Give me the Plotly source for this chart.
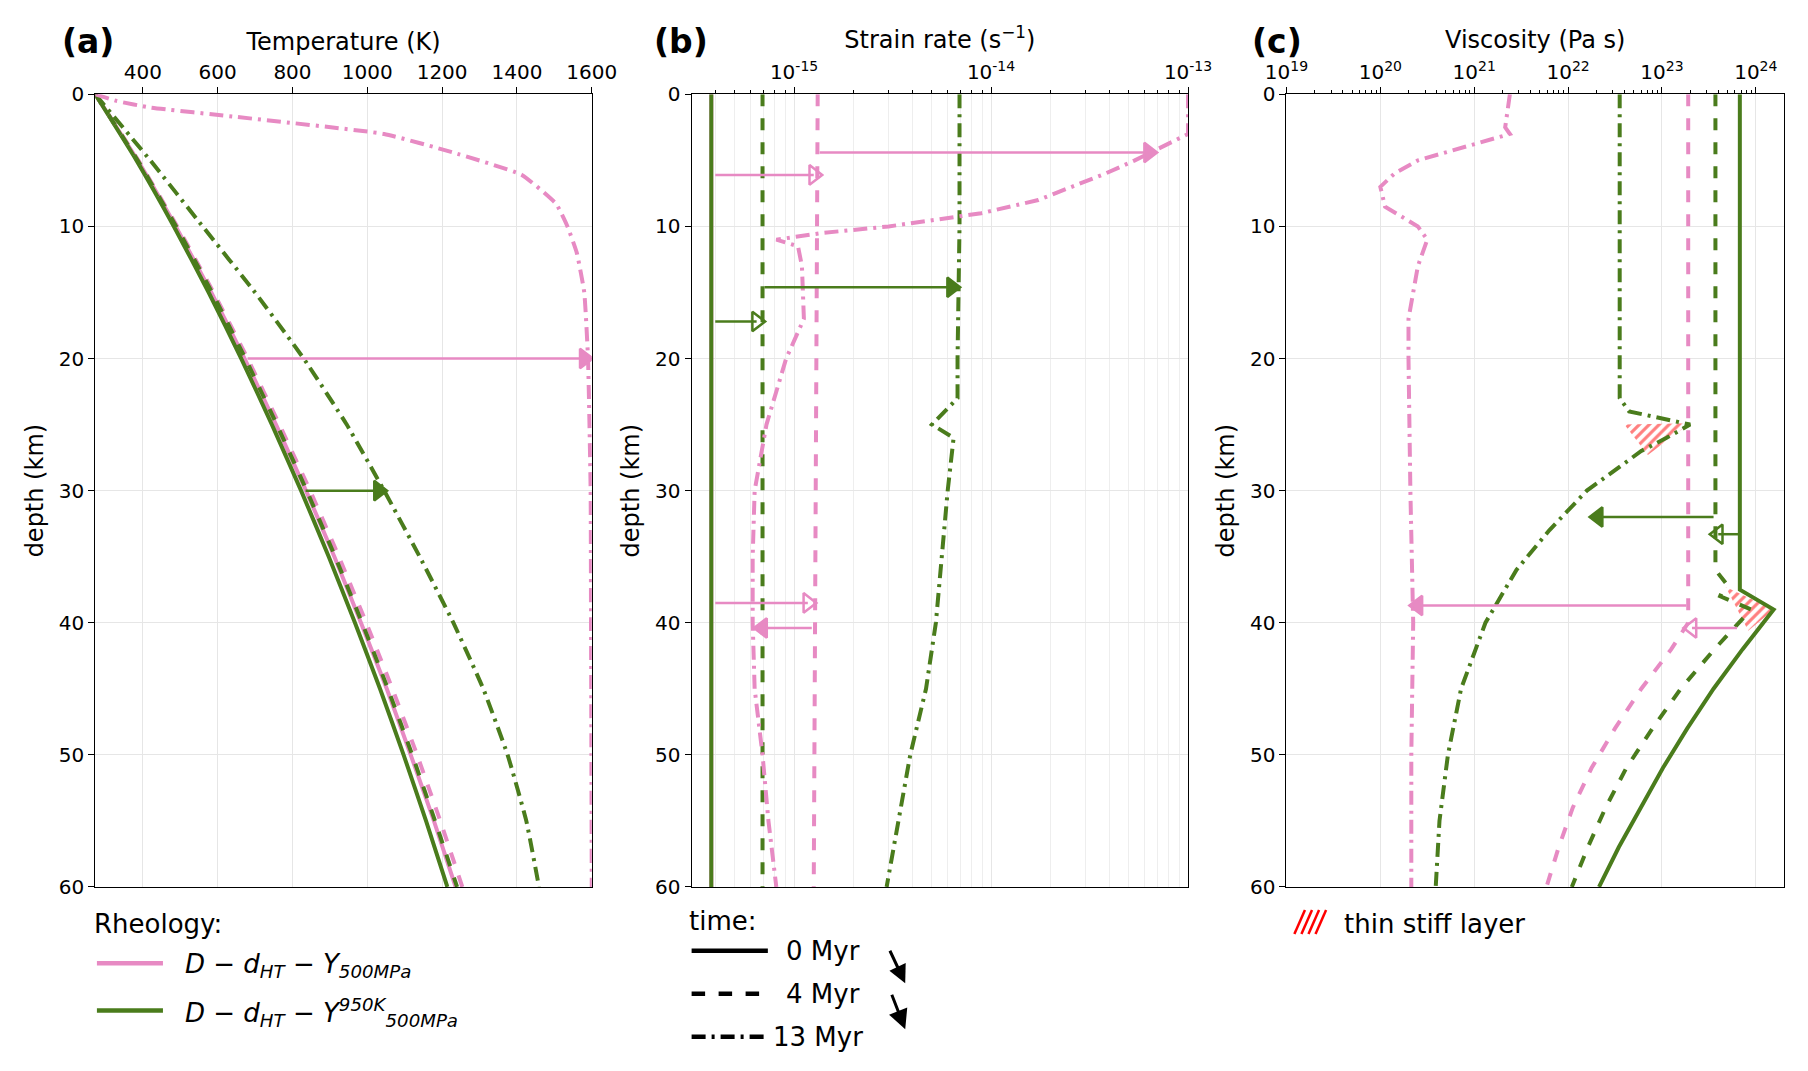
import plotly.graph_objects as go

PINK = "#e78ac3"
GREEN = "#4a7c1c"
DD = "14px,6px,3px,6px"
W = 4

# ---- Panel (a) temperature (K) vs depth (km)
a_depth = [0, 5, 10, 15, 20, 25, 30, 35, 40, 45, 50, 55, 60]
a_green_0 = [273, 383, 483, 576, 663, 745, 823, 897, 967, 1034, 1097, 1157, 1214]
a_pink_0 = [273, 386, 488, 583, 672, 756, 836, 912, 983, 1052, 1116, 1178, 1236]
a_green_4 = [273, 386, 489, 585, 674, 758, 838, 914, 986, 1055, 1120, 1181, 1240]
a_pink_4 = [273, 388, 492, 589, 680, 765, 847, 924, 997, 1067, 1133, 1195, 1254]
a_green_13 = [273, 420, 560, 700, 830, 945, 1045, 1140, 1230, 1310, 1375, 1425, 1459]
a_pink_13_depth = [0, 0.5, 1, 1.7, 3, 4.4, 6.1, 8.3, 10, 12, 15, 20, 30, 40, 50, 60]
a_pink_13 = [273, 330, 420, 647, 1045, 1229, 1413, 1505, 1535, 1560, 1580, 1590, 1597, 1598, 1599, 1600]

# ---- Panel (b) strain rate log10(s^-1)
b_depth_const = [0, 60]
b_green_0 = [-15.42, -15.42]
b_pink_0 = [-15.42, -15.42]
b_green_4 = [-15.16, -15.16]
b_pink_4 = [-14.88, -14.90]
b_green_13_depth = [0, 10, 20, 23, 25, 26, 30, 35, 40, 45, 50, 55, 60]
b_green_13 = [-14.16, -14.16, -14.17, -14.17, -14.30, -14.19, -14.22, -14.25, -14.28, -14.33, -14.41, -14.47, -14.53]
b_pink_13_depth = [0, 3, 5, 6, 8, 9, 10, 10.5, 11, 11.5, 13, 17, 20, 25, 30, 35, 40, 45, 50, 55, 60]
b_pink_13 = [-13.0, -13.0, -13.27, -13.42, -13.76, -14.05, -14.52, -14.86, -15.09, -14.98, -14.96, -14.95, -15.04, -15.14, -15.20, -15.21, -15.21, -15.20, -15.16, -15.13, -15.09]

# ---- Panel (c) viscosity log10(Pa s)
c_green_0_depth = [0, 37.5, 39, 40, 42, 45, 48, 51, 54, 57, 60]
c_green_0 = [23.83, 23.83, 24.19, 24.08, 23.86, 23.55, 23.27, 23.01, 22.77, 22.54, 22.33]
c_green_4_depth = [0, 36, 37, 38, 39, 40, 42, 45, 48, 51, 54, 57, 60]
c_green_4 = [23.57, 23.57, 23.68, 23.62, 23.95, 23.82, 23.56, 23.20, 22.90, 22.62, 22.40, 22.21, 22.04]
c_pink_4_depth = [0, 40, 42, 45, 48, 51, 54, 57, 60]
c_pink_4 = [23.28, 23.28, 23.10, 22.78, 22.50, 22.25, 22.05, 21.90, 21.77]
c_green_13_depth = [0, 23, 24, 25, 26, 27, 30, 33, 36, 40, 45, 50, 55, 60]
c_green_13 = [22.55, 22.55, 22.65, 23.30, 23.05, 22.78, 22.20, 21.80, 21.45, 21.12, 20.86, 20.72, 20.63, 20.59]
c_pink_13_depth = [0, 2.5, 3, 5, 6, 7, 8.5, 10, 11, 13, 17, 20, 30, 40, 50, 60]
c_pink_13 = [21.38, 21.33, 21.38, 20.40, 20.15, 20.00, 20.05, 20.40, 20.50, 20.40, 20.30, 20.30, 20.32, 20.35, 20.33, 20.33]
stiff1_x = [22.60, 23.30, 22.85, 22.60]
stiff1_y = [25.0, 24.9, 27.3, 25.0]
stiff2_x = [23.68, 24.19, 23.92, 23.68]
stiff2_y = [37.3, 39.0, 40.6, 37.3]

# arrows: (panel, x0, x1, depth, color, filled)
arrows = [
    ("a", 680, 1580, 20.0, PINK, True),
    ("a", 835, 1030, 30.0, GREEN, True),
    ("b", -14.87, -13.2, 4.4, PINK, True),
    ("b", -15.40, -14.90, 6.1, PINK, False),
    ("b", -15.15, -14.20, 14.6, GREEN, True),
    ("b", -15.40, -15.19, 17.2, GREEN, False),
    ("b", -15.40, -14.93, 38.5, PINK, False),
    ("b", -14.91, -15.16, 40.4, PINK, True),
    ("c", 23.55, 22.32, 32.0, GREEN, True),
    ("c", 23.82, 23.60, 33.3, GREEN, False),
    ("c", 23.26, 20.40, 38.7, PINK, True),
    ("c", 23.80, 23.32, 40.4, PINK, False),
]

fig = go.Figure()
AX = {"a": ("x", "y"), "b": ("x2", "y2"), "c": ("x3", "y3")}

def line(panel, x, y, color, dash, log=False):
    xs = [10.0 ** v for v in x] if log else x
    ln = dict(color=color, width=W, dash=dash)
    if not log:
        ln.update(shape="spline", smoothing=0.4)
    fig.add_trace(go.Scatter(x=xs, y=y, mode="lines", xaxis=AX[panel][0], yaxis=AX[panel][1],
                             line=ln, showlegend=False))

line("a", a_pink_0, a_depth, PINK, "solid")
line("a", a_green_0, a_depth, GREEN, "solid")
line("a", a_pink_4, a_depth, PINK, "dash")
line("a", a_green_4, a_depth, GREEN, "dash")
line("a", a_green_13, a_depth, GREEN, DD)
line("a", a_pink_13, a_pink_13_depth, PINK, DD)

line("b", b_pink_0, b_depth_const, PINK, "solid", True)
line("b", b_green_0, b_depth_const, GREEN, "solid", True)
line("b", b_green_4, b_depth_const, GREEN, "dash", True)
line("b", b_pink_4, b_depth_const, PINK, "dash", True)
line("b", b_green_13, b_green_13_depth, GREEN, DD, True)
line("b", b_pink_13, b_pink_13_depth, PINK, DD, True)

for sx, sy in [(stiff1_x, stiff1_y), (stiff2_x, stiff2_y)]:
    fig.add_trace(go.Scatter(x=[10.0 ** v for v in sx], y=sy, xaxis="x3", yaxis="y3", mode="lines",
                             fill="toself", line=dict(width=0, color="rgba(0,0,0,0)"),
                             fillcolor="rgba(0,0,0,0)",
                             fillpattern=dict(shape="/", fgcolor="red", bgcolor="white", size=7, solidity=0.45),
                             showlegend=False))
line("c", c_pink_4, c_pink_4_depth, PINK, "dash", True)
line("c", c_green_4, c_green_4_depth, GREEN, "dash", True)
line("c", c_green_0, c_green_0_depth, GREEN, "solid", True)
line("c", c_green_13, c_green_13_depth, GREEN, DD, True)
line("c", c_pink_13, c_pink_13_depth, PINK, DD, True)

for p, x0, x1, d, col, filled in arrows:
    log = p != "a"
    xs = [10.0 ** x0, 10.0 ** x1] if log else [x0, x1]
    sym = "triangle-right" if x1 > x0 else "triangle-left"
    if not filled:
        sym += "-open"
    fig.add_trace(go.Scatter(x=xs, y=[d, d], xaxis=AX[p][0], yaxis=AX[p][1], mode="lines",
                             line=dict(color=col, width=2.5), showlegend=False))
    fig.add_trace(go.Scatter(x=[xs[1]], y=[d], xaxis=AX[p][0], yaxis=AX[p][1], mode="markers",
                             marker=dict(symbol=sym, size=17, color=col, line=dict(color=col, width=2.5)),
                             showlegend=False))

FONT = "DejaVu Sans"
common = dict(showline=True, mirror=True, linecolor="black", linewidth=1.2, ticks="outside",
              tickcolor="black", ticklen=6, gridcolor="#e6e6e6", zeroline=False,
              tickfont=dict(size=20, color="black"), title_font=dict(size=24, color="black"))
ydom = [0.172, 0.929]
doms = {"a": [0.0371, 0.319], "b": [0.3757, 0.6576], "c": [0.7135, 0.996]}

sup = lambda e: "10<sup>%d</sup>" % e
minor_b = [m * 10.0 ** k for k in (-16, -15, -14) for m in range(2, 10)]
minor_c = [m * 10.0 ** k for k in range(19, 25) for m in range(2, 10)]
fig.update_layout(
    width=1808, height=1071, margin=dict(l=0, r=0, t=0, b=0),
    plot_bgcolor="white", paper_bgcolor="white", font=dict(family=FONT, color="black"),
    xaxis=dict(domain=doms["a"], side="top", range=[273, 1600], anchor="y",
               tickvals=[400, 600, 800, 1000, 1200, 1400, 1600],
               title=dict(text="Temperature (K)", standoff=2), **common),
    yaxis=dict(domain=ydom, range=[60, 0], anchor="x", tickvals=[0, 10, 20, 30, 40, 50, 60],
               title=dict(text="depth (km)", standoff=8), **common),
    xaxis2=dict(domain=doms["b"], side="top", type="log", range=[-15.52, -13], anchor="y2",
                tickvals=[1e-15, 1e-14, 1e-13], ticktext=[sup(-15), sup(-14), sup(-13)],
                minor=dict(tickmode="array", tickvals=minor_b, ticks="outside", ticklen=3,
                           showgrid=True, gridcolor="#eeeeee", tickcolor="black"),
                title=dict(text="Strain rate (s<sup>−1</sup>)", standoff=2), **common),
    yaxis2=dict(domain=ydom, range=[60, 0], anchor="x2", tickvals=[0, 10, 20, 30, 40, 50, 60],
                title=dict(text="depth (km)", standoff=8), **common),
    xaxis3=dict(domain=doms["c"], side="top", type="log", range=[19, 24.30], anchor="y3",
                tickvals=[10.0 ** k for k in range(19, 25)], ticktext=[sup(k) for k in range(19, 25)],
                minor=dict(tickmode="array", tickvals=minor_c, ticks="outside", ticklen=3,
                           showgrid=False, tickcolor="black"),
                title=dict(text="Viscosity (Pa s)", standoff=2), **common),
    yaxis3=dict(domain=ydom, range=[60, 0], anchor="x3", tickvals=[0, 10, 20, 30, 40, 50, 60],
                title=dict(text="depth (km)", standoff=8), **common),
)

ann = []
for lab, xp in [("(a)", 0.017), ("(b)", 0.353), ("(c)", 0.693)]:
    ann.append(dict(text="<b>%s</b>" % lab, x=xp, y=1.0, xref="paper", yref="paper",
                    xanchor="left", yanchor="top", showarrow=False, font=dict(size=33)))
T = 26
def txt(s, x, y):
    return dict(text=s, x=x, y=y, xref="paper", yref="paper", xanchor="left", yanchor="middle",
                showarrow=False, font=dict(size=T))
ann += [
    txt("Rheology:", 0.035, 0.137),
    txt("<i>D − d<sub>HT</sub> − Y<sub>500MPa</sub></i>", 0.087, 0.097),
    txt("<i>D − d<sub>HT</sub> − Y<sup>950K</sup><sub>500MPa</sub></i>", 0.087, 0.052),
    txt("time:", 0.373, 0.139),
    txt("0 Myr", 0.428, 0.111),
    txt("4 Myr", 0.428, 0.070),
    txt("13 Myr", 0.421, 0.029),
    txt("thin stiff layer", 0.745, 0.137),
    dict(text="", x=0.497, y=0.080, ax=-16, ay=-34, xref="paper", yref="paper",
         showarrow=True, arrowhead=2, arrowsize=1.2, arrowwidth=3, arrowcolor="black"),
    dict(text="", x=0.497, y=0.036, ax=-14, ay=-36, xref="paper", yref="paper",
         showarrow=True, arrowhead=2, arrowsize=1.3, arrowwidth=3, arrowcolor="black"),
]
fig.update_layout(annotations=ann)

shapes = [
    dict(type="line", xref="paper", yref="paper", x0=0.038, x1=0.0755, y0=0.099, y1=0.099, line=dict(color=PINK, width=4.5)),
    dict(type="line", xref="paper", yref="paper", x0=0.038, x1=0.0755, y0=0.054, y1=0.054, line=dict(color=GREEN, width=4.5)),
    dict(type="line", xref="paper", yref="paper", x0=0.3757, x1=0.419, y0=0.111, y1=0.111, line=dict(color="black", width=4.5)),
    dict(type="line", xref="paper", yref="paper", x0=0.3757, x1=0.419, y0=0.070, y1=0.070, line=dict(color="black", width=4.5, dash="dash")),
    dict(type="line", xref="paper", yref="paper", x0=0.3757, x1=0.419, y0=0.029, y1=0.029, line=dict(color="black", width=4.5, dash=DD)),
]
for k in range(4):
    shapes.append(dict(type="line", xref="paper", yref="paper", x0=0.718 + k * 0.0040, x1=0.724 + k * 0.0040,
                       y0=0.127, y1=0.150, line=dict(color="red", width=2.5)))
fig.update_layout(shapes=shapes)

fig.write_html("out.html")
